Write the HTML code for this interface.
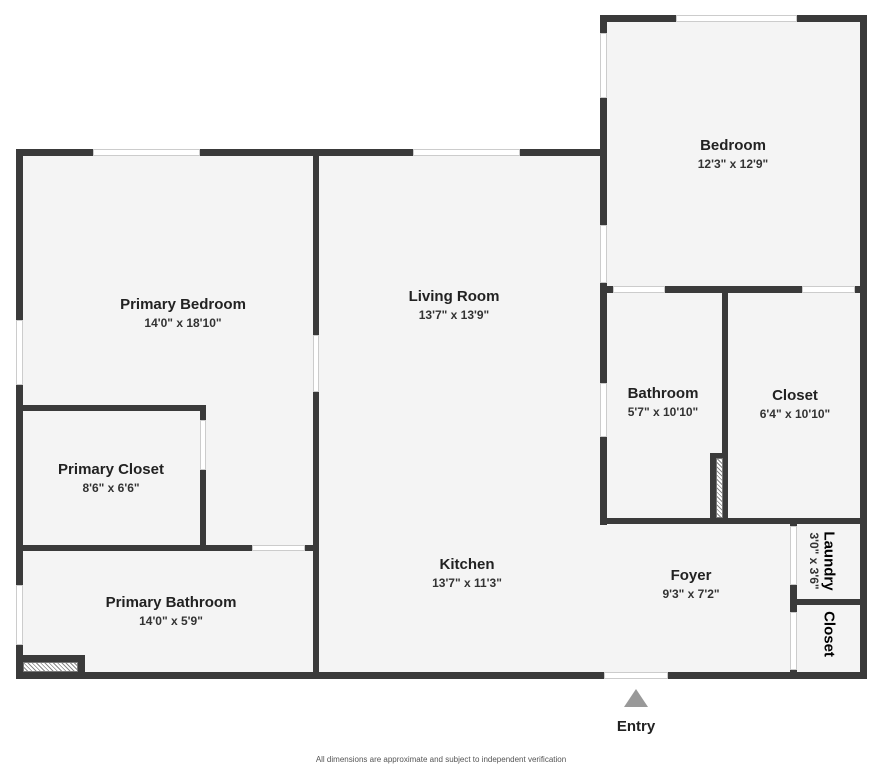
<!DOCTYPE html>
<html><head><meta charset="utf-8"><style>
body{margin:0;width:883px;height:768px;background:#fff;position:relative;overflow:hidden;font-family:"Liberation Sans",sans-serif}
div{position:absolute;box-sizing:border-box}
.f{background:#f4f4f4}
.w{background:#3a3a3a}
.g{background:#fff;border:1px solid #ccc}
.t{text-align:center;color:#222;transform:translateX(-50%);white-space:nowrap}
.n{font-weight:bold;font-size:15px}
.d{font-size:12px;font-weight:bold;color:#333}
.h{background:repeating-linear-gradient(45deg,#fff 0 2px,#888 2px 3px);border:1px solid #777}
</style></head><body>
<!-- floors -->
<div class="f" style="left:16px;top:149px;width:590px;height:530px"></div>
<div class="f" style="left:600px;top:15px;width:266px;height:664px"></div>
<!-- outer walls -->
<div class="w" style="left:16px;top:149px;width:590px;height:7px"></div>
<div class="w" style="left:600px;top:15px;width:267px;height:7px"></div>
<div class="w" style="left:860px;top:15px;width:7px;height:664px"></div>
<div class="w" style="left:16px;top:672px;width:851px;height:7px"></div>
<div class="w" style="left:16px;top:149px;width:7px;height:530px"></div>
<div class="w" style="left:600px;top:15px;width:7px;height:510px"></div>
<!-- interior walls -->
<div class="w" style="left:313px;top:149px;width:6px;height:530px"></div>
<div class="w" style="left:16px;top:405px;width:190px;height:6px"></div>
<div class="w" style="left:200px;top:405px;width:6px;height:146px"></div>
<div class="w" style="left:16px;top:545px;width:303px;height:6px"></div>
<div class="w" style="left:600px;top:286px;width:267px;height:7px"></div>
<div class="w" style="left:722px;top:286px;width:6px;height:238px"></div>
<div class="w" style="left:600px;top:518px;width:267px;height:6px"></div>
<div class="w" style="left:790px;top:518px;width:7px;height:161px"></div>
<div class="w" style="left:790px;top:599px;width:77px;height:6px"></div>
<div class="w" style="left:710px;top:453px;width:18px;height:71px"></div>
<div class="h" style="left:716px;top:458px;width:7px;height:60px"></div>
<div class="w" style="left:16px;top:655px;width:69px;height:24px"></div>
<div class="h" style="left:23px;top:662px;width:55px;height:10px"></div>
<!-- windows / gaps -->
<div class="g" style="left:93px;top:149px;width:107px;height:7px"></div>
<div class="g" style="left:413px;top:149px;width:107px;height:7px"></div>
<div class="g" style="left:676px;top:15px;width:121px;height:7px"></div>
<div class="g" style="left:16px;top:320px;width:7px;height:65px"></div>
<div class="g" style="left:16px;top:585px;width:7px;height:60px"></div>
<div class="g" style="left:313px;top:335px;width:6px;height:57px"></div>
<div class="g" style="left:200px;top:420px;width:6px;height:50px"></div>
<div class="g" style="left:252px;top:545px;width:53px;height:6px"></div>
<div class="g" style="left:600px;top:33px;width:7px;height:65px"></div>
<div class="g" style="left:600px;top:225px;width:7px;height:58px"></div>
<div class="g" style="left:600px;top:383px;width:7px;height:54px"></div>
<div class="g" style="left:613px;top:286px;width:52px;height:7px"></div>
<div class="g" style="left:802px;top:286px;width:53px;height:7px"></div>
<div class="g" style="left:790px;top:526px;width:7px;height:59px"></div>
<div class="g" style="left:790px;top:612px;width:7px;height:58px"></div>
<div class="g" style="left:604px;top:672px;width:64px;height:7px"></div>
<!-- labels -->
<div class="t n" style="left:183px;top:296px">Primary Bedroom</div>
<div class="t d" style="left:183px;top:316px">14'0" x 18'10"</div>
<div class="t n" style="left:111px;top:461px">Primary Closet</div>
<div class="t d" style="left:111px;top:481px">8'6" x 6'6"</div>
<div class="t n" style="left:171px;top:594px">Primary Bathroom</div>
<div class="t d" style="left:171px;top:614px">14'0" x 5'9"</div>
<div class="t n" style="left:454px;top:288px">Living Room</div>
<div class="t d" style="left:454px;top:308px">13'7" x 13'9"</div>
<div class="t n" style="left:467px;top:556px">Kitchen</div>
<div class="t d" style="left:467px;top:576px">13'7" x 11'3"</div>
<div class="t n" style="left:691px;top:567px">Foyer</div>
<div class="t d" style="left:691px;top:587px">9'3" x 7'2"</div>
<div class="t n" style="left:733px;top:137px">Bedroom</div>
<div class="t d" style="left:733px;top:157px">12'3" x 12'9"</div>
<div class="t n" style="left:663px;top:385px">Bathroom</div>
<div class="t d" style="left:663px;top:405px">5'7" x 10'10"</div>
<div class="t n" style="left:795px;top:387px">Closet</div>
<div class="t d" style="left:795px;top:407px">6'4" x 10'10"</div>
<div class="n" style="left:829px;top:561px;transform:translate(-50%,-50%) rotate(90deg);white-space:nowrap">Laundry</div>
<div class="d" style="left:814px;top:561px;transform:translate(-50%,-50%) rotate(90deg);white-space:nowrap">3'0" x 3'6"</div>
<div class="n" style="left:829px;top:634px;transform:translate(-50%,-50%) rotate(90deg);white-space:nowrap">Closet</div>
<div style="left:624px;top:689px;width:0;height:0;border-left:12px solid transparent;border-right:12px solid transparent;border-bottom:18px solid #999"></div>
<div class="t n" style="left:636px;top:718px">Entry</div>
<div class="t" style="left:441px;top:755px;font-size:8px;color:#555">All dimensions are approximate and subject to independent verification</div>
</body></html>
